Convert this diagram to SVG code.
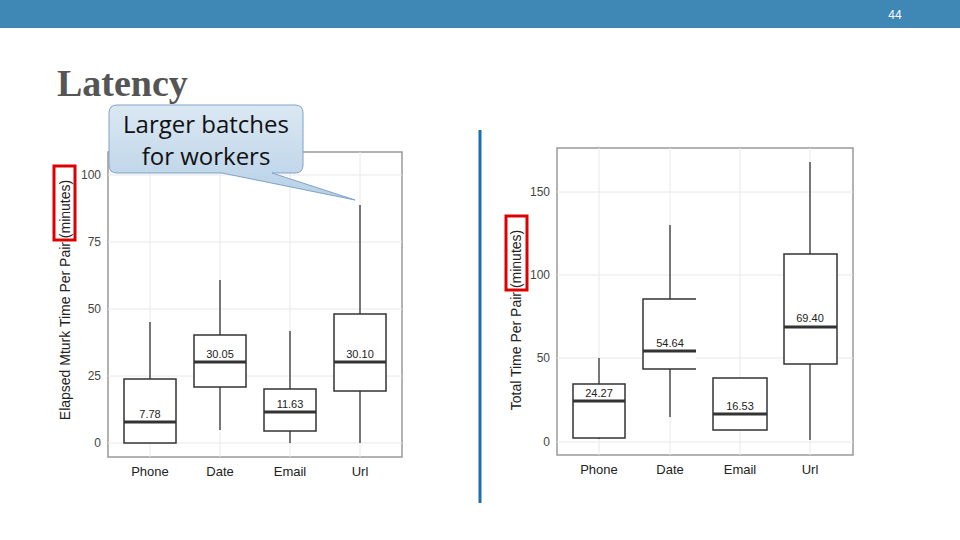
<svg xmlns="http://www.w3.org/2000/svg" width="960" height="540" viewBox="0 0 960 540">
<style>
.ax{font-family:"Liberation Sans",Arial,sans-serif;font-size:12px;fill:#444}
.cat{font-family:"Liberation Sans",Arial,sans-serif;font-size:13px;fill:#222;text-anchor:middle}
.val{font-family:"Liberation Sans",Arial,sans-serif;font-size:11px;fill:#222;text-anchor:middle}
.yl{font-family:"Liberation Sans",Arial,sans-serif;font-size:14px;fill:#222;text-anchor:middle}
.grid{stroke:#e8e8e8;stroke-width:1}
.panel{fill:#fff;stroke:#999;stroke-width:1.5}
.box{fill:#fff;stroke:#333;stroke-width:1.5}
.wh{stroke:#333;stroke-width:1.3}
.med{stroke:#333;stroke-width:3}
.red{fill:none;stroke:#d00;stroke-width:3}
</style>
<defs><linearGradient id="cg" x1="0" y1="0" x2="0" y2="1"><stop offset="0" stop-color="#dbe8f3"/><stop offset="1" stop-color="#b7d0e6"/></linearGradient></defs>
<rect width="960" height="540" fill="#fff"/>
<rect width="960" height="28" fill="#3f87b4"/>
<text x="895" y="19" font-family="Liberation Sans,Arial,sans-serif" font-size="12" fill="#fff" text-anchor="middle">44</text>
<text x="57" y="96" font-family="Liberation Serif,serif" font-size="38" font-weight="bold" fill="#555">Latency</text>
<line x1="480" y1="130" x2="480" y2="503" stroke="#1f6fae" stroke-width="3"/>

<g id="left-plot">
<rect class="panel" x="108" y="152" width="294" height="305"/>
<g class="grid"><line x1="108" x2="402" y1="175" y2="175"/><line x1="108" x2="402" y1="242" y2="242"/><line x1="108" x2="402" y1="309" y2="309"/><line x1="108" x2="402" y1="376" y2="376"/><line x1="108" x2="402" y1="443" y2="443"/>
<line x1="150" x2="150" y1="152" y2="457"/><line x1="220" x2="220" y1="152" y2="457"/><line x1="290" x2="290" y1="152" y2="457"/><line x1="360" x2="360" y1="152" y2="457"/></g>
<g class="ax" text-anchor="end"><text x="101" y="179">100</text><text x="101" y="246">75</text><text x="101" y="313">50</text><text x="101" y="380">25</text><text x="101" y="447">0</text></g>
<text class="cat" x="150" y="476">Phone</text><text class="cat" x="220" y="476">Date</text><text class="cat" x="290" y="476">Email</text><text class="cat" x="360" y="476">Url</text>
<text class="yl" transform="translate(70,300) rotate(-90)">Elapsed Mturk Time Per Pair (minutes)</text>
<rect class="red" x="54" y="166" width="21" height="74"/>
<line class="wh" x1="150" y1="322" x2="150" y2="379"/><rect class="box" x="124" y="379" width="52" height="64"/><line class="med" x1="124" y1="422" x2="176" y2="422"/><text class="val" x="150" y="418">7.78</text>
<line class="wh" x1="220" y1="280" x2="220" y2="430"/><rect class="box" x="194" y="335" width="52" height="52"/><line class="med" x1="194" y1="362" x2="246" y2="362"/><text class="val" x="220" y="358">30.05</text>
<line class="wh" x1="290" y1="331" x2="290" y2="443"/><rect class="box" x="264" y="389" width="52" height="42"/><line class="med" x1="264" y1="412" x2="316" y2="412"/><text class="val" x="290" y="408">11.63</text>
<line class="wh" x1="360" y1="205" x2="360" y2="443"/><rect class="box" x="334" y="314" width="52" height="77"/><line class="med" x1="334" y1="362" x2="386" y2="362"/><text class="val" x="360" y="358">30.10</text>
</g>

<g id="callout">
<path d="M117,105 H295 Q303,105 303,113 V165 Q303,173 295,173 H272 L355,200 L222,173 H117 Q109,173 109,165 V113 Q109,105 117,105 Z" fill="url(#cg)" stroke="#7fa3c6" stroke-width="1"/>
<text x="206" y="133" font-family="Open Sans,Noto Sans,sans-serif" font-size="24" fill="#111" text-anchor="middle">Larger batches</text>
<text x="206" y="165" font-family="Open Sans,Noto Sans,sans-serif" font-size="24" fill="#111" text-anchor="middle">for workers</text>
</g>

<g id="right-plot">
<rect class="panel" x="557" y="148" width="296" height="307"/>
<g class="grid"><line x1="557" x2="853" y1="192" y2="192"/><line x1="557" x2="853" y1="275" y2="275"/><line x1="557" x2="853" y1="358" y2="358"/><line x1="557" x2="853" y1="442" y2="442"/>
<line x1="599" x2="599" y1="148" y2="455"/><line x1="670" x2="670" y1="148" y2="455"/><line x1="740" x2="740" y1="148" y2="455"/><line x1="810" x2="810" y1="148" y2="455"/></g>
<g class="ax" text-anchor="end"><text x="550" y="196">150</text><text x="550" y="279">100</text><text x="550" y="362">50</text><text x="550" y="446">0</text></g>
<text class="cat" x="599" y="474">Phone</text><text class="cat" x="670" y="474">Date</text><text class="cat" x="740" y="474">Email</text><text class="cat" x="810" y="474">Url</text>
<text class="yl" transform="translate(521,320) rotate(-90)">Total Time Per Pair (minutes)</text>
<rect class="red" x="506" y="216" width="21" height="74"/>
<line class="wh" x1="599" y1="358" x2="599" y2="439"/><rect class="box" x="573" y="384" width="52" height="54"/><line class="med" x1="573" y1="401" x2="625" y2="401"/><text class="val" x="599" y="397">24.27</text>
<line class="wh" x1="670" y1="225" x2="670" y2="417"/><path d="M696,299 H643 V369 H696" fill="#fff" stroke="#333" stroke-width="1.5"/><line class="med" x1="643" y1="351" x2="696" y2="351"/><text class="val" x="670" y="347">54.64</text>
<rect class="box" x="713" y="378" width="54" height="52"/><line class="med" x1="713" y1="414" x2="767" y2="414"/><text class="val" x="740" y="410">16.53</text>
<line class="wh" x1="810" y1="162" x2="810" y2="440"/><rect class="box" x="784" y="254" width="53" height="110"/><line class="med" x1="784" y1="327" x2="837" y2="327"/><text class="val" x="810" y="322">69.40</text>
</g>
</svg>
